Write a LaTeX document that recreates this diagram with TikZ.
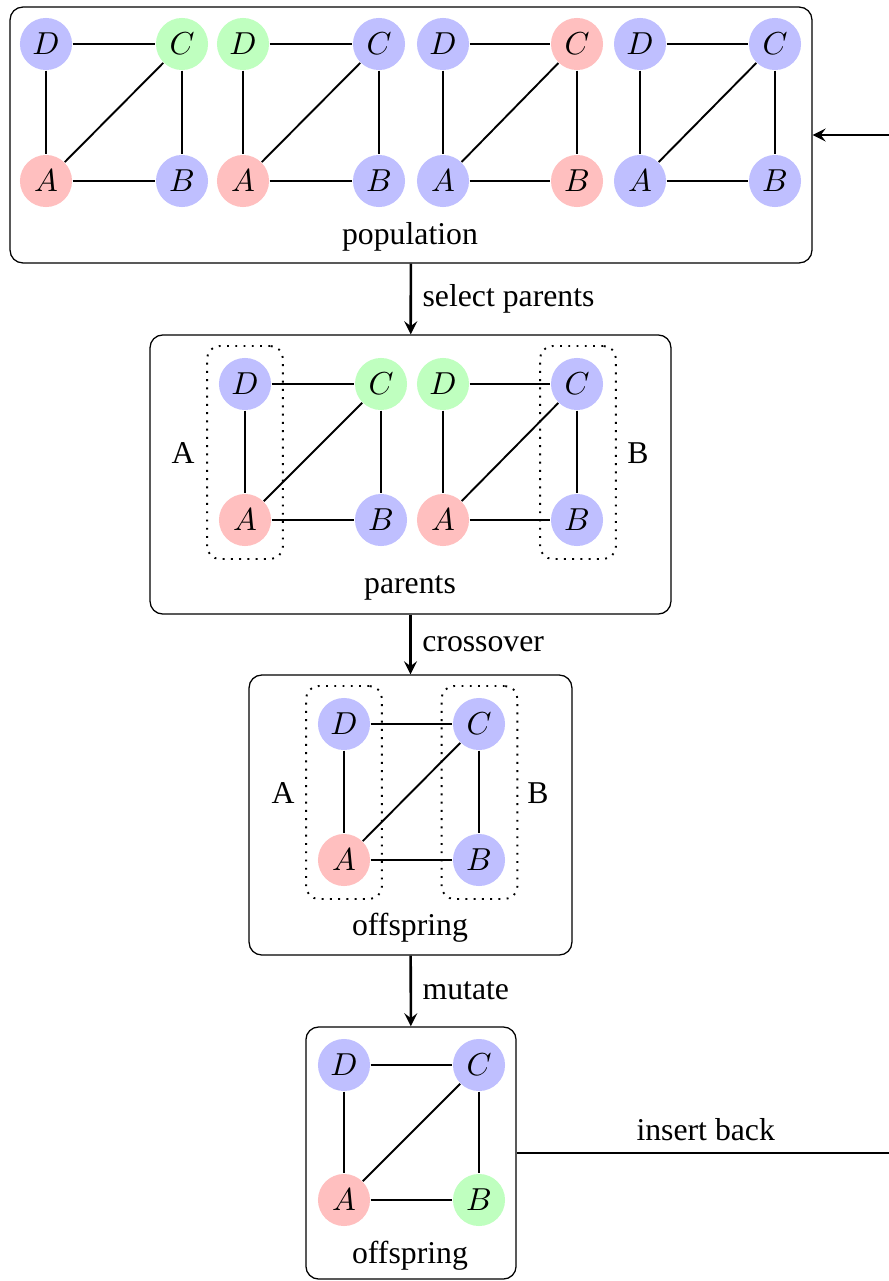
\documentclass[tikz,border=0pt]{standalone}
\usepackage{fontspec}
\setmainfont{Liberation Serif}
\usepackage{amsmath}
\usepackage{tikz}

\begin{document}
\begin{tikzpicture}
    [
    x=0.315pt,y=-0.315pt,
    vertex/.style={circle,inner sep=0pt,minimum size=16.4pt},
    box/.style={draw,rounded corners,inner sep=0pt},
    group/.style={draw,dotted,semithick,rounded corners,inner sep=0pt,minimum width=23.9pt,minimum height=67.1pt},
    edge/.style={semithick},
    flow/.style={thick,-stealth}
    ]
    \useasboundingbox (0,0) rectangle (888,1281);
    % frames
    \node (pop) at (411,135) [box,minimum width=252.6pt,minimum height=80.6pt] {};
    \node (par) at (410.5,474.5) [box,minimum width=164.1pt,minimum height=87.9pt] {};
    \node (off) at (410.5,815) [box,minimum width=101.7pt,minimum height=88.2pt] {};
    \node (mut) at (411,1153) [box,minimum width=66.2pt,minimum height=79.4pt] {};
    \node (poplab) at (410,237) {population};
    \node (parlab) at (410,588) {parents};
    \node (offlab) at (410,928) {offspring};
    \node (mutlab) at (410,1256) {offspring};
    % population
    \node (p1D) at (46,44) [vertex,fill=blue!25] {$D$};
    \node (p1C) at (182,44) [vertex,fill=green!25] {$C$};
    \node (p1A) at (46,181) [vertex,fill=red!25] {$A$};
    \node (p1B) at (182,181) [vertex,fill=blue!25] {$B$};
    \node (p2D) at (243,44) [vertex,fill=green!25] {$D$};
    \node (p2C) at (379,44) [vertex,fill=blue!25] {$C$};
    \node (p2A) at (243,181) [vertex,fill=red!25] {$A$};
    \node (p2B) at (379,181) [vertex,fill=blue!25] {$B$};
    \node (p3D) at (443,44) [vertex,fill=blue!25] {$D$};
    \node (p3C) at (577,44) [vertex,fill=red!25] {$C$};
    \node (p3A) at (443,181) [vertex,fill=blue!25] {$A$};
    \node (p3B) at (577,181) [vertex,fill=red!25] {$B$};
    \node (p4D) at (640,44) [vertex,fill=blue!25] {$D$};
    \node (p4C) at (775,44) [vertex,fill=blue!25] {$C$};
    \node (p4A) at (640,181) [vertex,fill=blue!25] {$A$};
    \node (p4B) at (775,181) [vertex,fill=blue!25] {$B$};
    % parents
    \node (q1D) at (245,384) [vertex,fill=blue!25] {$D$};
    \node (q1C) at (381,384) [vertex,fill=green!25] {$C$};
    \node (q1A) at (245,520) [vertex,fill=red!25] {$A$};
    \node (q1B) at (381,520) [vertex,fill=blue!25] {$B$};
    \node (q2D) at (443,384) [vertex,fill=green!25] {$D$};
    \node (q2C) at (577,384) [vertex,fill=blue!25] {$C$};
    \node (q2A) at (443,520) [vertex,fill=red!25] {$A$};
    \node (q2B) at (577,520) [vertex,fill=blue!25] {$B$};
    \node (qgA) at (245,452.5) [group] {};
    \node (qgB) at (578,452.5) [group] {};
    \node (qlA) at (183,453) {A};
    \node (qlB) at (638,453) {B};
    % offspring
    \node (oD) at (344,724) [vertex,fill=blue!25] {$D$};
    \node (oC) at (479,724) [vertex,fill=blue!25] {$C$};
    \node (oA) at (344,860) [vertex,fill=red!25] {$A$};
    \node (oB) at (479,860) [vertex,fill=blue!25] {$B$};
    \node (ogA) at (344,792.5) [group] {};
    \node (ogB) at (479.5,792.5) [group] {};
    \node (olA) at (283,793) {A};
    \node (olB) at (538,793) {B};
    % mutated offspring
    \node (mD) at (344,1065) [vertex,fill=blue!25] {$D$};
    \node (mC) at (479,1065) [vertex,fill=blue!25] {$C$};
    \node (mA) at (344,1200) [vertex,fill=red!25] {$A$};
    \node (mB) at (479,1200) [vertex,fill=green!25] {$B$};
    \foreach \g in {p1,p2,p3,p4,q1,q2,o,m} {
      \draw [edge] (\g D) to (\g C);
      \draw [edge] (\g D) to (\g A);
      \draw [edge] (\g C) to (\g B);
      \draw [edge] (\g A) to (\g B);
      \draw [edge] (\g A) to (\g C);
    }
    \draw [flow] (pop) to node[right] {select parents} (par);
    \draw [flow] (par) to node[right] {crossover} (off);
    \draw [flow] (off) to node[right] {mutate} (mut);
    \draw [flow] (mut.east) -- node[above] {insert back} ++(378,0) |- (pop.east);
  \end{tikzpicture}
\end{document}
